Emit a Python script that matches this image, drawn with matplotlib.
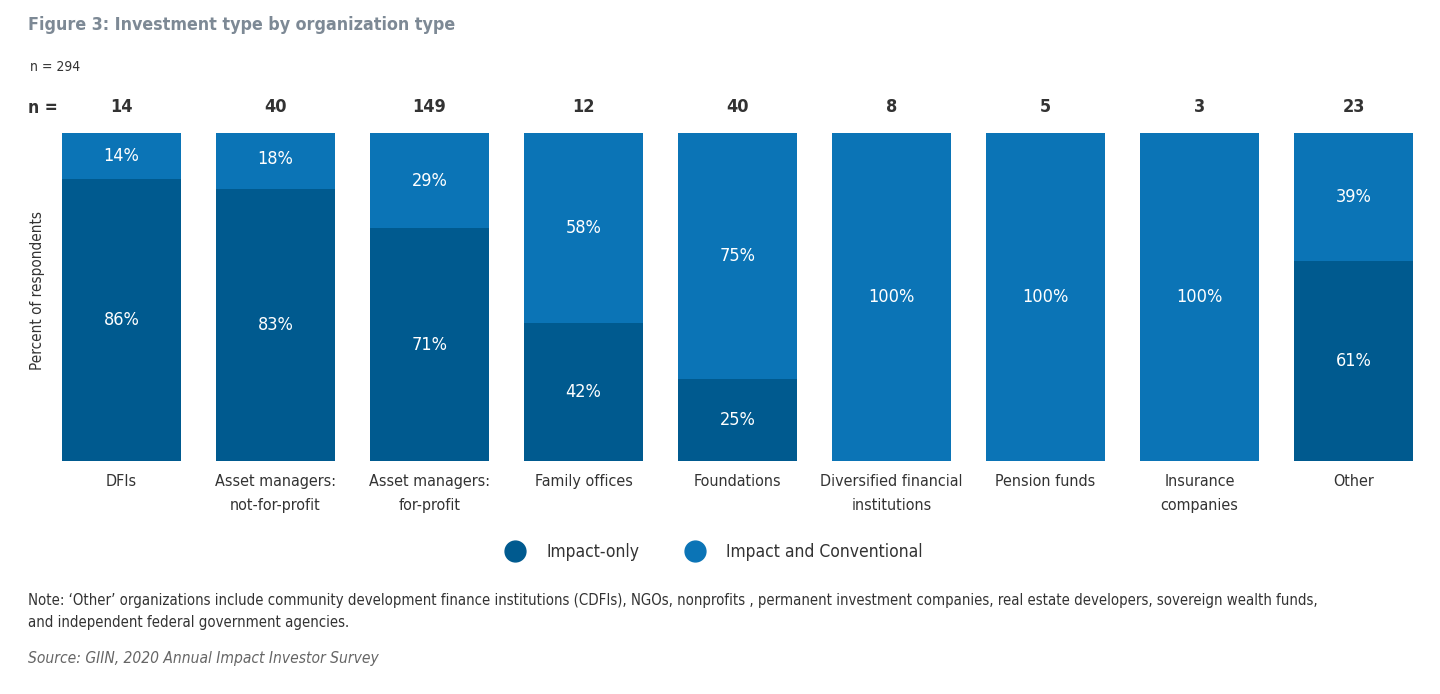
import matplotlib
matplotlib.use('Agg')
import matplotlib.pyplot as plt
from matplotlib.lines import Line2D

plt.rcParams['font.family'] = ['DejaVu Sans']
plt.rcParams['font.stretch'] = 'condensed'

# daten
categories = ['DFIs', 'Asset managers:\nnot-for-profit', 'Asset managers:\nfor-profit',
              'Family offices', 'Foundations', 'Diversified financial\ninstitutions',
              'Pension funds', 'Insurance\ncompanies', 'Other']
n_values = [14, 40, 149, 12, 40, 8, 5, 3, 23]
impact_only = [86, 83, 71, 42, 25, 0, 0, 0, 61]
impact_conv = [14, 18, 29, 58, 75, 100, 100, 100, 39]

dark = '#005a8f'
light = '#0b74b6'
txt = '#333333'

fig = plt.figure(figsize=(14.4, 6.94), dpi=100)
ax = fig.add_axes([0.0309, 0.3357, 0.9625, 0.4726])

x = list(range(len(categories)))
ax.bar(x, impact_only, width=0.77, color=dark)
ax.bar(x, impact_conv, width=0.77, bottom=impact_only, color=light)

for i in x:
    if impact_only[i] > 0:
        ax.text(i, impact_only[i] / 2, f'{impact_only[i]}%', ha='center', va='center',
                color='white', fontsize=13)
    if impact_conv[i] > 0:
        ax.text(i, impact_only[i] + impact_conv[i] / 2, f'{impact_conv[i]}%', ha='center',
                va='center', color='white', fontsize=13)
    ax.text(i, 108, str(n_values[i]), ha='center', va='center', color=txt,
            fontsize=13, fontweight='bold')
    ax.text(i, -4, categories[i], ha='center', va='top', color=txt, fontsize=11.5,
            linespacing=1.75)

ax.set_xlim(-0.5, 8.5)
ax.set_ylim(0, 100)
ax.axis('off')

# Beschriftungen
fig.text(28 / 1440, 1 - 108 / 694, 'n =', ha='left', va='center', color=txt,
         fontsize=12.5, fontweight='bold')
fig.text(28 / 1440, 1 - 25 / 694, 'Figure 3: Investment type by organization type', ha='left',
         va='center', color='#7d8995', fontsize=12.8, fontweight='bold')
fig.text(30 / 1440, 1 - 67 / 694, 'n = 294', ha='left', va='center', color=txt, fontsize=10)
fig.text(38 / 1440, 1 - 291 / 694, 'Percent of respondents', rotation=90, ha='center',
         va='center', color=txt, fontsize=11)

# Legende
handles = [Line2D([], [], marker='o', linestyle='', markersize=15, color=dark),
           Line2D([], [], marker='o', linestyle='', markersize=15, color=light)]
fig.legend(handles, ['Impact-only', 'Impact and Conventional'], loc='center',
           bbox_to_anchor=(710 / 1440, 1 - 552 / 694), ncol=2, frameon=False,
           fontsize=12.5, handletextpad=0.8, columnspacing=2.2, labelcolor=txt)

fig.text(28 / 1440, 1 - 600 / 694,
         "Note: \u2018Other\u2019 organizations include community development finance institutions (CDFIs), "
         "NGOs, nonprofits , permanent investment companies, real estate developers, sovereign wealth funds,",
         ha='left', va='center', color=txt, fontsize=10.75)
fig.text(28 / 1440, 1 - 623 / 694, 'and independent federal government agencies.',
         ha='left', va='center', color=txt, fontsize=10.75)
fig.text(28 / 1440, 1 - 659 / 694, 'Source: GIIN, 2020 Annual Impact Investor Survey',
         ha='left', va='center', color='#666666', fontsize=11.2, style='italic')

fig.savefig('out.png', dpi=100)
